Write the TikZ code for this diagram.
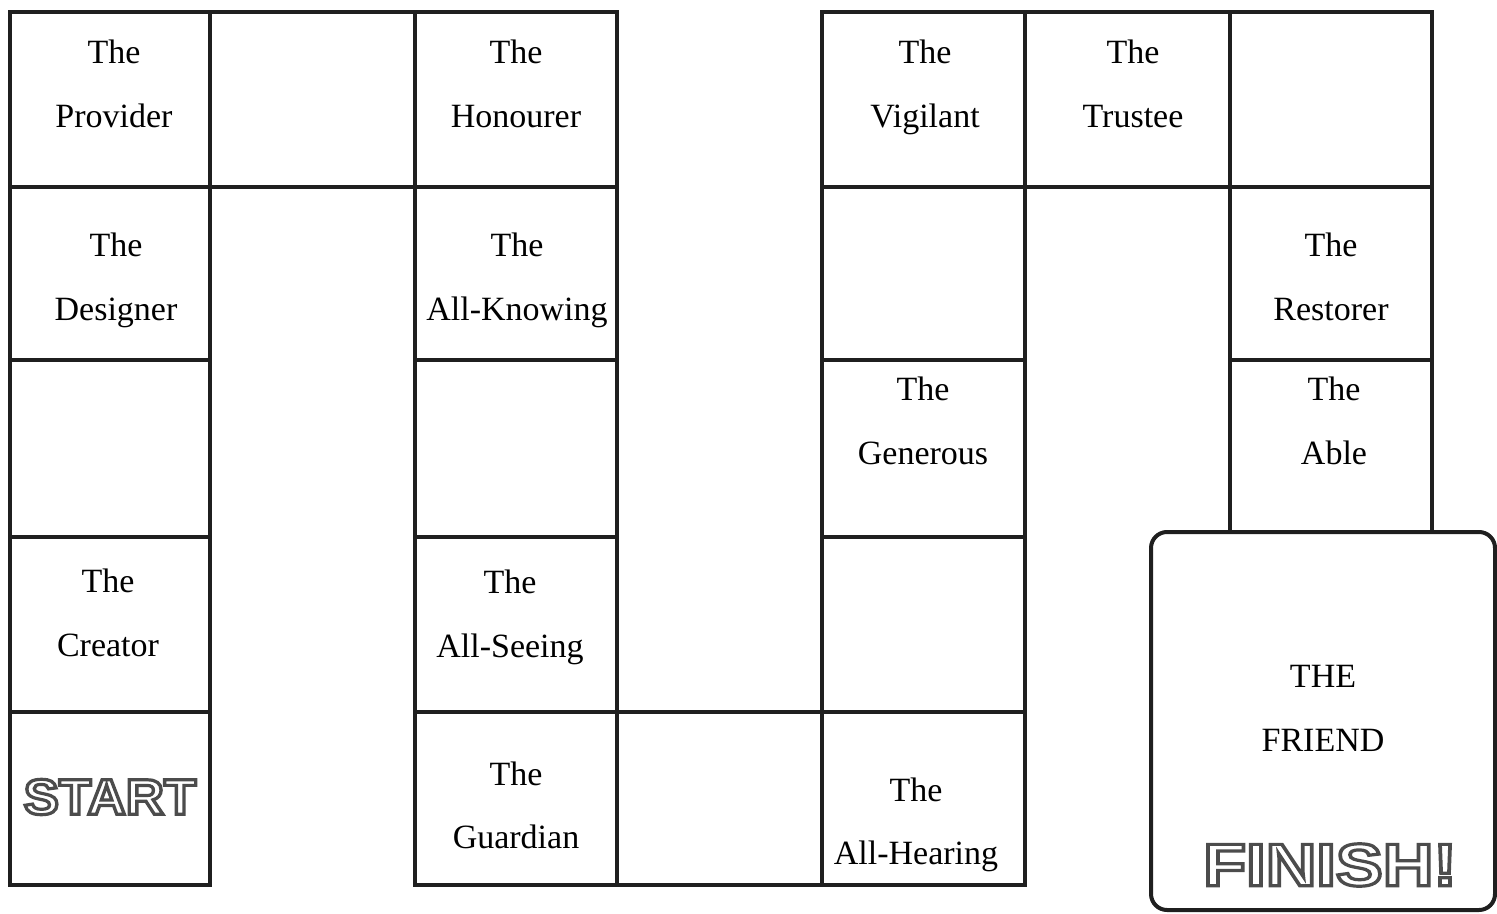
\documentclass[tikz,border=0pt]{standalone}
\usepackage{fontspec}
\setmainfont{Liberation Serif}
\newfontfamily\boardsans{Liberation Sans}
\usetikzlibrary{fit}
\newcommand\hollow[1]{\special{pdf:literal direct 1 Tr 1.6 w 0.3 G}#1\special{pdf:literal direct 0 Tr 0 G}}
\tikzset{
  cellbox/.style={draw=black!88, line width=2pt, inner sep=0pt},
  lbl/.style={align=center, anchor=north, font=\fontsize{17}{32}\selectfont, inner sep=0pt},
  finishbox/.style={draw=black!88, line width=2pt, rounded corners=8pt},
  bigword/.style={inner sep=0pt, transform shape},
}
\newcommand\boardcell[5]{\node[cellbox, fit={(#1,#2)(#3,#4)}] (#5) {};}
\begin{document}
\begin{tikzpicture}[x={(0.5pt,0)}, y={(0,-0.5pt)}]
\useasboundingbox (0,0) rectangle (1497,914);
% column 1
\boardcell{10}{12}{210}{187}{a1}
\boardcell{10}{187}{210}{360}{a2}
\boardcell{10}{360}{210}{537}{a3}
\boardcell{10}{537}{210}{712}{a4}
\boardcell{10}{712}{210}{885}{a5}
% column 2
\boardcell{210}{12}{415}{187}{b1}
% column 3
\boardcell{415}{12}{617}{187}{c1}
\boardcell{415}{187}{617}{360}{c2}
\boardcell{415}{360}{617}{537}{c3}
\boardcell{415}{537}{617}{712}{c4}
\boardcell{415}{712}{617}{885}{c5}
% column 4
\boardcell{617}{712}{822}{885}{d5}
% column 5
\boardcell{822}{12}{1025}{187}{e1}
\boardcell{822}{187}{1025}{360}{e2}
\boardcell{822}{360}{1025}{537}{e3}
\boardcell{822}{537}{1025}{712}{e4}
\boardcell{822}{712}{1025}{885}{e5}
% column 6
\boardcell{1025}{12}{1230}{187}{f1}
% column 7
\boardcell{1230}{12}{1432}{187}{g1}
\boardcell{1230}{187}{1432}{360}{g2}
\boardcell{1230}{360}{1432}{532}{g3}
% finish box
\node[finishbox, inner sep=0pt, fit={(1151,532)(1495,910)}] (fin) {};
% labels (north = top of "The")
\node[lbl] (tprov) at (114,40) {The\\Provider};
\node[lbl] (tdes) at (116,233) {The\\Designer};
\node[lbl] (tcre) at (108,569) {The\\Creator};
\node[lbl] (thon) at (516,40) {The\\Honourer};
\node[lbl] (tkno) at (517,233) {The\\All-Knowing};
\node[lbl] (tsee) at (510,570) {The\\All-Seeing};
\node[lbl] (tgua) at (516,761) {The\\Guardian};
\node[lbl] (tvig) at (925,40) {The\\Vigilant};
\node[lbl] (tgen) at (923,377) {The\\Generous};
\node[lbl] (thea) at (916,777) {The\\All-Hearing};
\node[lbl] (ttru) at (1133,40) {The\\Trustee};
\node[lbl] (tres) at (1331,233) {The\\Restorer};
\node[lbl] (table) at (1334,377) {The\\Able};
\node[lbl] (tfri) at (1323,665) {THE\\FRIEND};
\node[bigword, xscale=1.06, font=\boardsans\bfseries\fontsize{25}{25}\selectfont] (start) at (110,797) {\hollow{START}};
\node[bigword, xscale=1.17, font=\boardsans\bfseries\fontsize{30}{30}\selectfont] (finish) at (1330,865) {\hollow{FINISH!}};
\end{tikzpicture}
\end{document}
